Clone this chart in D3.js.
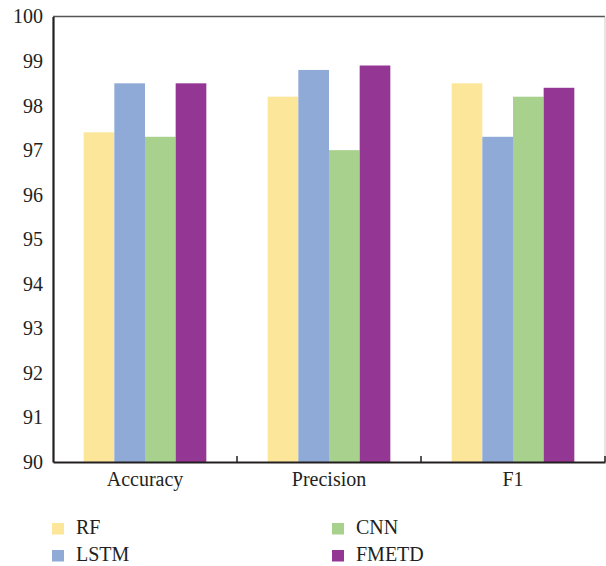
<!DOCTYPE html>
<html><head><meta charset="utf-8">
<script src="https://cdn.jsdelivr.net/npm/d3@7"></script>
<style>body{margin:0;background:#fff}svg{display:block}text{font-family:"Liberation Serif","DejaVu Serif",serif;fill:#231f20}</style>
</head><body>
<svg id="chart" width="606" height="566"></svg>
<script>
const categories = ["Accuracy", "Precision", "F1"];
const seriesNames = ["RF", "LSTM", "CNN", "FMETD"];
const rfValues = [97.4, 98.2, 98.5];
const lstmValues = [98.5, 98.8, 97.3];
const cnnValues = [97.3, 97.0, 98.2];
const fmetdValues = [98.5, 98.9, 98.4];
const yTicks = [90, 91, 92, 93, 94, 95, 96, 97, 98, 99, 100];
const colors = ["#fce699", "#8faad6", "#a9d18e", "#943694"];

const seriesValues = [rfValues, lstmValues, cnnValues, fmetdValues];
const svg = d3.select("#chart");
const L = 53, R = 605, T = 16.5, B = 462;
const FONT = '"Liberation Serif","DejaVu Serif",serif';

const x = d3.scaleBand().domain(categories).range([L, R]).paddingInner(0).paddingOuter(0);
const xs = d3.scaleBand().domain(seriesNames).range([0, x.bandwidth()]).paddingInner(0).paddingOuter(1.0);
const y = d3.scaleLinear().domain([90, 100]).range([B, T]);

// frame top & right
svg.append("line").attr("x1", L).attr("x2", R).attr("y1", T).attr("y2", T).attr("stroke", "#555").attr("stroke-width", 1.5);
svg.append("line").attr("x1", R).attr("x2", R).attr("y1", T).attr("y2", B).attr("stroke", "#ccc").attr("stroke-width", 1);

// bars
categories.forEach((c, ci) => {
  seriesNames.forEach((s, si) => {
    svg.append("rect")
      .attr("x", x(c) + xs(s))
      .attr("y", y(seriesValues[si][ci]))
      .attr("width", xs.bandwidth())
      .attr("height", y(90) - y(seriesValues[si][ci]))
      .attr("fill", colors[si]);
  });
});

// y axis
const yAxis = svg.append("g").attr("transform", `translate(${L},0)`)
  .call(d3.axisLeft(y).tickValues(yTicks).tickSize(0).tickPadding(10).tickFormat(d3.format("d")));
yAxis.select(".domain").attr("stroke", "#231f20").attr("stroke-width", 2.2);
yAxis.selectAll("text").style("font-size", "20px").style("font-family", FONT).attr("fill", "#231f20");

// x axis
const xAxis = svg.append("g").attr("transform", `translate(0,${B})`)
  .call(d3.axisBottom(x).tickSize(0).tickPadding(10));
xAxis.select(".domain").attr("stroke", "#231f20").attr("stroke-width", 2.2);
xAxis.selectAll("text").style("font-size", "20px").style("font-family", FONT).attr("fill", "#231f20");
// boundary ticks
const bounds = categories.map(c => x(c) + x.bandwidth());
xAxis.selectAll(".bt").data(bounds).enter().append("line")
  .attr("x1", d => d).attr("x2", d => d).attr("y1", 0).attr("y2", -6)
  .attr("stroke", "#231f20").attr("stroke-width", 1.5);

// legend
const legendPos = [[52, 523], [52, 550], [332, 523], [332, 550]];
seriesNames.forEach((s, i) => {
  const [lx, ly] = legendPos[i];
  svg.append("rect").attr("x", lx).attr("y", ly).attr("width", 12).attr("height", 11.5).attr("fill", colors[i]);
  svg.append("text").attr("x", lx + 24).attr("y", ly + 11).style("font-size", "20px").text(s);
});
</script>
</body></html>
